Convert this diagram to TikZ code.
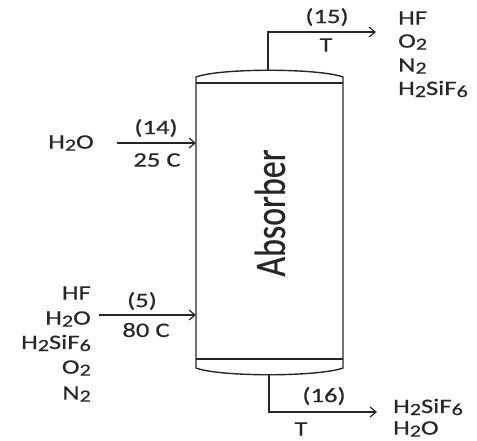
\documentclass[tikz,border=0pt]{standalone}
\usepackage{fontspec}
\usepackage{graphicx}
\setmainfont{Carlito}[FakeStretch=1.3, FakeBold=0.4]
\newfontfamily\plainfont{Carlito}[FakeBold=0.4]
\usetikzlibrary{arrows.meta}
\newcommand{\lowd}[1]{\raisebox{-0.1em}{\fontsize{17}{17}\selectfont #1}}
\tikzset{
  pipe/.style={line width=1.4pt, draw=black!85},
  flow/.style={pipe, -{Straight Barb[length=6pt, width=10pt, line width=1.2pt]}},
  lbl/.style={font=\fontsize{20.5}{22}\selectfont, text=black!85, inner sep=0pt}
}
\begin{document}
\begin{tikzpicture}[x=1pt, y=-1pt]
  \useasboundingbox (0,0) rectangle (477,440);

  % ────────────────────────────────────────────────────────────────────
  % Column body with domed heads
  % ────────────────────────────────────────────────────────────────────
  \draw[pipe] (196,77) .. controls (220,68) and (318,68) .. (343,77)
    -- (343,368) .. controls (318,377) and (220,377) .. (196,368) -- cycle;
  \draw[pipe] (196,83) -- (343,83);
  \draw[pipe] (196,359) -- (343,359);
  \node[lbl, rotate=90, font=\plainfont\fontsize{34}{36}\selectfont] (absorber)
    at (270,213) {\scalebox{1}[1.28]{Absorber}};

  % nozzle points on the column
  \coordinate (topnoz) at (268,70.5);
  \coordinate (botnoz) at (269,374.5);
  \coordinate (in14) at (196,143);
  \coordinate (in5)  at (196,315);

  % ────────────────────────────────────────────────────────────────────
  % (14) water feed
  % ────────────────────────────────────────────────────────────────────
  \coordinate (s14) at (117,143);
  \draw[flow] (s14) -- (in14);
  \node[lbl] (n14) at (156,128) {(14)};
  \node[lbl] (t14) at (157,160) {25 C};
  \node[lbl] (w14) at (71,143) {H\lowd{2}O};

  % ────────────────────────────────────────────────────────────────────
  % (5) gas feed
  % ────────────────────────────────────────────────────────────────────
  \coordinate (s5) at (99,315);
  \draw[flow] (s5) -- (in5);
  \node[lbl] (n5) at (142,301) {(5)};
  \node[lbl] (t5) at (146,330) {80 C};
  \node[lbl, anchor=east] (c5a) at (91,293) {HF};
  \node[lbl, anchor=east] (c5b) at (91,319) {H\lowd{2}O};
  \node[lbl, anchor=east] (c5c) at (91,343) {H\lowd{2}SiF\lowd{6}};
  \node[lbl, anchor=east] (c5d) at (91,368) {O\lowd{2}};
  \node[lbl, anchor=east] (c5e) at (91,394) {N\lowd{2}};

  % ────────────────────────────────────────────────────────────────────
  % (15) overhead vapour
  % ────────────────────────────────────────────────────────────────────
  \coordinate (k15) at (268,32);
  \coordinate (e15) at (376,32);
  \draw[flow] (topnoz) -- (k15) -- (e15);
  \node[lbl] (n15) at (327,17) {(15)};
  \node[lbl] (t15) at (326,45) {T};
  \node[lbl, anchor=west] (c15a) at (398,18) {HF};
  \node[lbl, anchor=west] (c15b) at (398,42) {O\lowd{2}};
  \node[lbl, anchor=west] (c15c) at (398,66) {N\lowd{2}};
  \node[lbl, anchor=west] (c15d) at (398,89) {H\lowd{2}SiF\lowd{6}};

  % ────────────────────────────────────────────────────────────────────
  % (16) bottoms liquid
  % ────────────────────────────────────────────────────────────────────
  \coordinate (k16) at (269,412);
  \coordinate (e16) at (377,412);
  \draw[flow] (botnoz) -- (k16) -- (e16);
  \node[lbl] (n16) at (324,396) {(16)};
  \node[lbl] (t16) at (301,429) {T};
  \node[lbl, anchor=west] (c16a) at (393,407) {H\lowd{2}SiF\lowd{6}};
  \node[lbl, anchor=west] (c16b) at (393,429) {H\lowd{2}O};

\end{tikzpicture}
\end{document}
